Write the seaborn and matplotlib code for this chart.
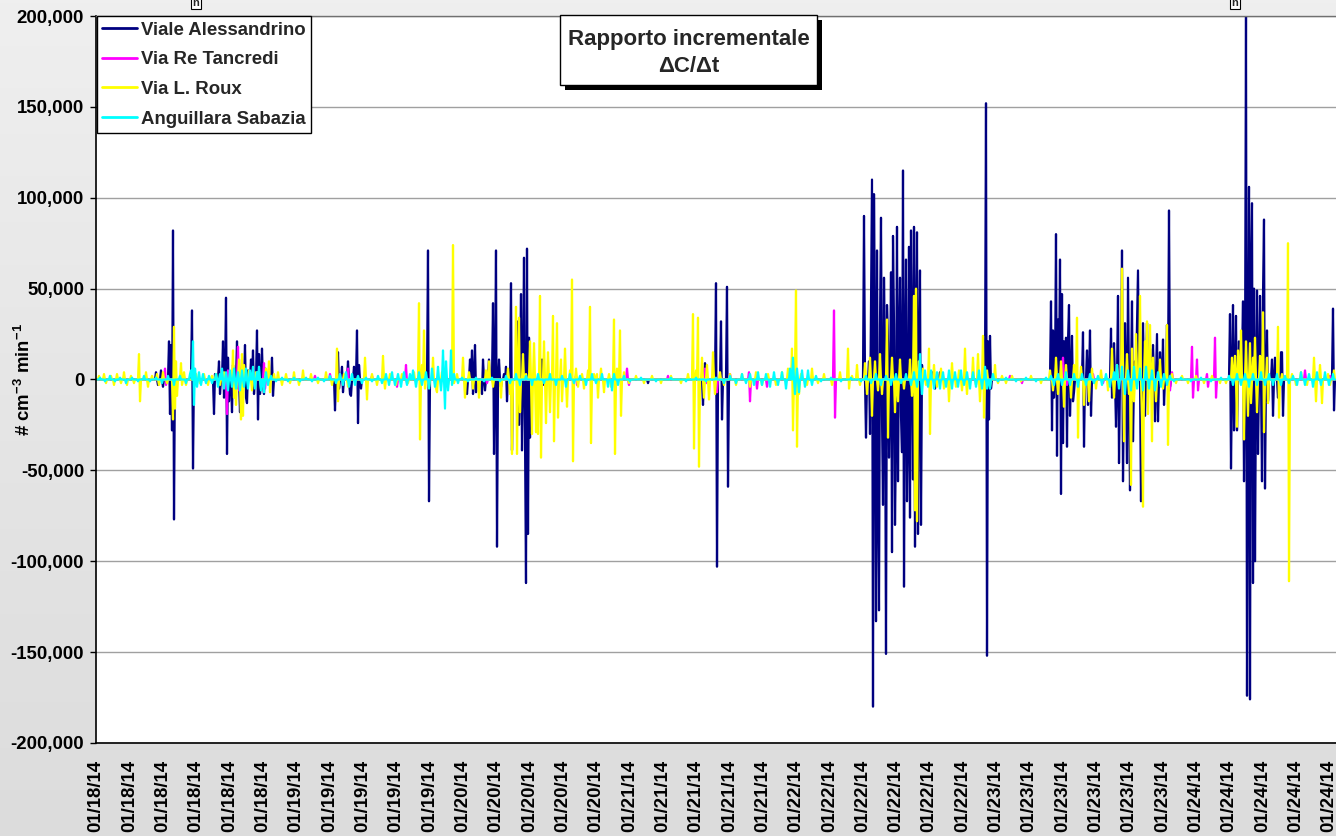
import numpy as np
import pandas as pd
import matplotlib
matplotlib.use("Agg")
import matplotlib.pyplot as plt
import seaborn as sns
from matplotlib.patches import Rectangle
from matplotlib.colors import LinearSegmentedColormap
from matplotlib.ticker import StrMethodFormatter

# samples along the time axis (one per reading), values in thousands of # cm-3 min-1
n_samples = 1240
stations = ["Viale Alessandrino", "Via Re Tancredi", "Via L. Roux", "Anguillara Sabazia"]
station_colors = ["#000080", "#FF00FF", "#FFFF00", "#00FFFF"]

# (sample, value) pairs; every other sample is ~0
viale = [(60, 4), (62, -3), (65, 5), (67, -4), (73, 21), (74, -19), (75, 19), (76, -28), (77, 82), (78, -77),
         (79, 10), (80, -5), (96, 38), (97, -49), (98, 5), (118, -19), (119, 3), (123, 10), (124, -8), (127, 21),
         (128, -10), (130, 45), (131, -41), (132, 12), (133, -12), (136, -18), (137, 8), (141, 21), (142, -5),
         (144, -18), (145, 6), (149, 19), (150, -10), (151, -13), (152, 5), (155, 11), (157, 16), (158, -8),
         (161, 27), (162, -22), (163, 14), (164, -8), (166, 17), (167, -3), (168, -8), (169, 6), (176, 12), (177, -9),
         (239, -17), (242, 15), (243, -5), (246, 7), (247, -7), (252, 10), (254, -8), (255, -9), (258, 7), (261, 27),
         (262, -24), (263, 8), (265, -5), (332, 71), (333, -67), (371, -8), (374, 11), (376, 16), (377, -8), (379, 19),
         (380, -7), (386, -8), (387, 11), (389, -6), (393, 11), (397, 42), (398, -41), (400, 71), (401, -92), (403, 11),
         (405, -4), (408, 3), (410, 7), (411, -12), (415, 53), (416, -39), (422, 32), (423, -25), (425, 47), (426, -39),
         (428, 67), (429, -30), (430, -112), (431, 72), (432, -85), (433, 23), (434, -32), (446, 11), (447, -3),
         (552, -2), (607, -14), (609, 9), (620, 53), (621, -103), (625, 32), (626, -22), (631, 51), (632, -59),
         (702, -4), (768, 90), (770, -32), (773, 10), (774, -30), (775, 40), (776, 110), (777, -180), (778, 102),
         (779, 20), (780, -133), (781, 71), (782, -60), (783, -127), (784, 30), (785, 89), (786, -20), (787, -69),
         (788, 56), (789, 10), (790, -151), (791, 41), (792, 20), (793, -43), (794, -10), (795, 59), (796, -95),
         (797, 79), (798, 30), (799, -80), (800, -30), (801, 84), (802, -56), (803, 20), (804, 56), (805, -20),
         (806, -40), (807, 115), (808, -114), (809, 10), (810, 66), (811, -67), (812, -30), (813, 73), (814, -76),
         (815, 82), (816, 20), (817, -55), (818, 84), (819, -92), (820, 30), (821, 81), (822, -85), (823, 15),
         (824, 60), (825, -80), (826, 8), (837, 4), (839, -5), (844, 4), (890, 152), (891, -152), (892, 21),
         (893, -22), (894, 24), (895, -5), (955, 43), (956, -28), (957, 27), (958, -10), (960, 80), (961, -42),
         (962, 33), (964, 66), (965, -63), (966, 47), (967, -35), (968, 21), (970, 23), (971, -37), (972, 21),
         (973, 41), (974, -20), (976, 24), (977, -12), (978, -7), (987, 26), (988, -37), (991, 16), (992, -14),
         (994, 27), (995, -20), (1015, 28), (1016, -10), (1018, 20), (1020, -26), (1022, 46), (1023, -46),
         (1026, 71), (1027, -56), (1029, 31), (1031, -46), (1032, 56), (1034, -61), (1036, 43), (1037, -34),
         (1039, 10), (1041, 31), (1042, 60), (1045, -67), (1047, 31), (1049, -20), (1051, 31), (1054, 17),
         (1057, 19), (1059, -23), (1061, 25), (1062, -23), (1064, 15), (1067, 22), (1068, -14), (1071, 30),
         (1073, 93), (1074, -4), (1134, 36), (1135, -49), (1137, 41), (1138, -28), (1140, 35), (1141, -28),
         (1143, 21), (1146, 10), (1147, 43), (1148, -56), (1150, 200), (1151, -174), (1153, 106), (1154, -176),
         (1155, 63), (1156, 97), (1157, -112), (1158, 50), (1159, -100), (1161, 49), (1162, -41), (1164, 46),
         (1166, -56), (1167, 46), (1168, 88), (1169, -60), (1171, 27), (1172, -12), (1176, 11), (1177, -20),
         (1179, 12), (1182, -10), (1185, 15), (1186, 15), (1187, -20), (1237, 39), (1238, -17)]

tancredi = [(69, 6), (70, -3), (131, -19), (132, 5), (142, 18), (143, -6), (146, 11), (147, -4), (157, 6),
            (159, -4), (168, 9), (169, -5), (219, 2), (234, 3), (244, 3), (252, 6), (253, -2), (276, 2), (301, -4),
            (310, 8), (311, -2), (391, -2), (480, 2), (481, -3), (531, 6), (533, -3), (572, 2), (609, 6), (610, -2),
            (621, -7), (634, 3), (653, 4), (654, -12), (661, -5), (671, -4), (738, 38), (739, -21), (914, 2),
            (926, -2), (967, 12), (971, -3), (997, 3), (1007, -2), (1074, -6), (1076, 4), (1096, 18), (1097, -10),
            (1101, 11), (1102, -6), (1111, 3), (1112, -4), (1119, 23), (1120, -10), (1209, 5), (1234, 2)]

roux = [(3, 2), (8, 3), (10, -2), (15, 2), (18, -3), (21, 3), (25, -2), (28, 4), (31, -3), (35, 2), (38, -2),
        (43, 14), (44, -12), (50, 4), (52, -4), (56, 2), (61, 3), (63, -3), (67, 4), (71, -2), (77, -22), (78, 29),
        (79, -16), (80, 10), (81, -9), (85, 9), (86, -3), (88, 4), (90, -3), (100, 3), (104, -2), (108, 3),
        (112, -3), (116, 2), (120, 3), (124, -3), (128, 4), (137, 16), (138, -10), (140, -14), (143, 11), (145, -22),
        (146, 14), (147, -20), (148, 8), (153, 5), (156, -6), (160, 4), (165, -5), (170, 6), (173, 10), (174, -7),
        (178, 3), (182, 4), (186, -3), (190, 3), (194, -2), (198, 4), (203, -3), (207, 5), (215, 3), (222, -2),
        (230, 4), (236, -3), (241, 17), (242, -12), (248, 3), (252, -4), (269, 12), (271, -11), (276, 3), (281, -3),
        (287, 13), (289, -5), (294, 3), (300, -3), (306, 3), (312, -2), (318, 4), (323, 42), (324, -33), (326, 8),
        (328, 27), (329, -5), (333, -4), (337, 12), (340, -5), (341, -7), (346, 4), (352, -3), (357, 74), (358, -2),
        (361, 3), (367, 12), (369, -10), (373, 4), (377, -5), (383, -10), (390, 5), (393, 10), (397, -4), (405, -10),
        (412, 6), (414, -8), (416, -41), (420, 40), (421, -41), (423, 34), (424, -18), (427, 14), (430, 3), (434, 21),
        (436, -30), (438, 20), (440, -29), (442, -30), (444, 46), (445, -43), (448, 21), (450, -24), (452, 15),
        (454, -18), (457, 35), (458, -34), (461, 31), (462, -21), (465, 11), (466, -12), (469, 17), (471, -15),
        (474, 5), (476, 55), (477, -45), (480, 6), (482, -4), (486, 3), (488, -5), (492, 5), (494, 40), (495, -35),
        (498, 3), (501, 3), (502, -10), (505, 6), (508, -7), (513, 3), (515, -4), (518, 33), (519, -41), (521, 6),
        (524, 27), (525, -20), (528, 4), (533, -2), (540, 2), (548, -2), (556, 2), (565, -2), (575, 2), (585, -2),
        (592, 3), (597, 36), (598, -38), (600, 5), (602, 34), (603, -48), (606, 12), (608, -10), (611, 8), (613, -11),
        (617, 15), (619, -8), (624, 4), (628, -3), (634, 3), (640, -3), (646, 3), (654, -4), (660, 4), (666, -3),
        (672, 3), (680, -3), (686, 4), (692, 6), (696, 17), (697, -28), (699, 5), (700, 49), (701, -37), (703, -8),
        (705, 3), (711, -3), (716, 6), (722, -2), (728, 3), (736, -3), (744, 4), (752, 17), (753, -5), (756, 2),
        (761, 8), (764, -3), (769, 9), (771, -8), (774, 12), (776, -20), (779, 10), (782, -6), (784, 14), (786, -8),
        (791, 33), (792, -32), (796, 12), (799, -18), (802, -12), (804, 11), (808, -5), (814, 11), (816, -9),
        (818, 46), (819, -72), (820, 50), (821, -78), (823, 10), (827, 6), (830, -3), (833, 17), (834, -30),
        (838, 8), (841, -4), (845, 6), (848, -5), (853, -12), (856, 9), (860, -4), (863, 5), (866, -6), (869, 17),
        (871, -8), (877, 12), (880, -3), (882, 14), (884, -12), (887, 24), (888, -21), (891, 5), (894, -4), (899, 8),
        (902, -2), (906, 2), (910, -2), (916, 2), (925, -1), (935, 2), (945, -2), (954, 5), (957, -6), (960, 12),
        (962, -8), (965, 10), (968, -15), (970, 8), (975, -10), (978, 8), (981, 34), (982, -32), (985, 7),
        (988, -14), (993, -12), (996, 6), (1000, -5), (1005, 5), (1012, -6), (1016, 17), (1018, -10), (1021, 8),
        (1026, 61), (1027, 10), (1028, -34), (1031, 14), (1033, -8), (1035, -58), (1036, 17), (1038, -12),
        (1040, 25), (1044, 46), (1046, -22), (1047, -70), (1049, 21), (1051, 32), (1052, -19), (1054, 30),
        (1056, -34), (1057, 12), (1060, -12), (1064, 11), (1067, -5), (1071, 30), (1072, -36), (1076, 3),
        (1080, -2), (1086, 2), (1092, -2), (1100, 2), (1108, -2), (1116, 2), (1124, -2), (1130, -2), (1136, 12),
        (1139, 13), (1141, -26), (1142, 16), (1145, 27), (1148, -33), (1150, 21), (1152, -20), (1154, 20),
        (1155, -13), (1157, 12), (1159, 23), (1161, -18), (1164, 13), (1167, 37), (1168, -29), (1171, 12),
        (1172, -13), (1182, 29), (1183, -21), (1186, 3), (1192, 75), (1193, -111), (1196, 3), (1200, -3),
        (1205, 4), (1211, -3), (1218, 12), (1220, -12), (1224, 8), (1226, -13), (1232, 3), (1234, -3), (1238, 5)]

anguillara = [(4, 1), (9, -1), (14, 2), (19, -1), (24, 1), (30, -2), (36, 1), (42, -1), (48, 2), (54, -1), (60, 1),
              (66, -2), (72, 2), (78, -3), (84, 2), (90, -2), (94, 3), (95, 5), (97, 21), (98, -14), (99, 6),
              (101, -4), (103, 4), (105, -3), (107, 3), (110, -2), (113, 2), (116, -2), (120, 3), (122, -4), (124, 3),
              (126, 6), (128, -5), (130, 4), (132, -6), (134, 5), (136, -4), (138, 6), (140, -5), (142, 4), (144, -6),
              (146, 5), (148, -4), (150, 6), (152, -5), (154, 5), (157, 7), (159, -5), (161, 4), (163, 7), (165, -6),
              (168, -7), (170, 4), (172, -3), (175, 2), (180, -1), (186, 1), (192, -1), (198, 1), (204, -1), (210, 1),
              (216, -1), (222, 1), (228, -1), (234, 2), (240, -2), (244, 3), (247, -3), (250, 4), (253, -4), (256, 3),
              (259, -3), (262, 2), (266, -2), (270, 1), (276, -1), (282, 2), (286, -2), (290, 3), (293, -3), (296, 4),
              (299, -3), (302, 3), (305, -4), (308, 4), (311, -3), (314, 3), (317, 5), (320, -4), (323, 4), (326, -3),
              (330, 4), (333, -5), (336, 6), (339, -4), (342, 7), (345, -6), (347, 16), (349, -16), (350, 10),
              (352, -6), (355, 16), (356, -3), (358, 3), (362, -2), (366, 1), (372, -1), (380, 1), (388, -1), (396, 1),
              (404, -1), (410, 2), (414, -2), (420, 3), (424, -3), (430, 2), (436, -3), (442, 3), (448, -2), (454, 3),
              (460, -3), (466, 2), (470, -4), (474, 3), (478, -2), (484, 2), (490, -3), (496, 3), (500, -2), (506, 3),
              (512, -4), (516, -6), (518, 3), (522, -3), (528, 2), (534, -1), (545, 1), (560, -1), (575, 1), (590, -1),
              (600, 1), (610, -1), (620, 1), (628, -2), (634, 2), (640, -2), (646, 3), (650, -2), (654, 3), (658, -3),
              (662, 4), (666, -3), (670, 3), (674, -4), (678, 4), (682, -3), (686, 4), (690, -5), (694, 6), (697, 12),
              (699, -8), (701, 6), (703, -7), (706, 5), (709, -4), (712, 5), (716, -3), (720, 2), (725, -1), (735, 1),
              (745, -1), (755, 1), (765, -1), (770, 2), (775, -2), (780, 3), (785, -3), (790, 2), (795, -3), (800, 3),
              (805, -2), (810, 3), (815, -3), (818, 4), (821, -4), (824, 14), (826, -8), (829, 5), (832, -4), (835, 5),
              (838, -5), (841, 4), (844, -5), (847, 4), (850, -4), (853, 5), (856, -5), (859, 4), (862, -4), (865, 5),
              (868, -3), (871, 4), (874, -5), (877, 4), (880, -4), (883, 5), (886, -5), (889, 7), (891, -5), (894, -5),
              (897, 3), (902, -1), (910, 1), (920, -1), (930, 1), (940, -1), (950, 1), (955, 2), (958, -3), (962, 3),
              (966, -3), (970, 4), (974, -3), (978, 3), (982, -4), (986, 3), (990, -3), (994, 3), (998, -2), (1002, 2),
              (1006, -3), (1010, 3), (1014, -4), (1018, 4), (1021, 8), (1023, -5), (1026, 7), (1029, -8), (1032, 5),
              (1035, -6), (1038, 7), (1041, -5), (1044, 6), (1047, -6), (1050, 7), (1053, -5), (1056, 5), (1059, -6),
              (1062, 4), (1065, -4), (1068, 3), (1071, -3), (1074, 2), (1078, -1), (1085, 1), (1095, -1), (1105, 1),
              (1115, -1), (1125, 1), (1133, 2), (1137, -3), (1141, 3), (1145, -3), (1149, 3), (1153, -4), (1157, 3),
              (1161, -3), (1165, 4), (1169, -3), (1173, 3), (1177, -3), (1181, 3), (1185, -3), (1189, 2), (1193, -2),
              (1197, 2), (1201, -3), (1205, 4), (1209, -3), (1213, 3), (1217, -4), (1221, 4), (1225, -3), (1229, 4),
              (1233, -3), (1237, 3)]

tick_dates = (["01/18/14"] * 6 + ["01/19/14"] * 5 + ["01/20/14"] * 5 + ["01/21/14"] * 5
              + ["01/22/14"] * 6 + ["01/23/14"] * 6 + ["01/24/14"] * 5)
tick_step = 33.33  # samples between category labels

# build long-form table
frames = []
for name, pairs in zip(stations, [viale, tancredi, roux, anguillara]):
    vals = np.zeros(n_samples)
    for i, v in pairs:
        vals[i] = v * 1000
    frames.append(pd.DataFrame({"sample": np.arange(n_samples), "value": vals, "station": name}))
df = pd.concat(frames, ignore_index=True)

sns.set_theme(style="white")
plt.rcParams["font.family"] = ["Liberation Sans", "DejaVu Sans"]
plt.rcParams["axes.unicode_minus"] = False
plt.rcParams["mathtext.fontset"] = "custom"
plt.rcParams["mathtext.rm"] = "Liberation Sans:bold"
plt.rcParams["mathtext.bf"] = "Liberation Sans:bold"
plt.rcParams["mathtext.default"] = "bf"

W, H = 1336, 836
fig = plt.figure(figsize=(W / 100, H / 100), dpi=100)

# grey chart area, slightly lighter at the top
bg = fig.add_axes([0, 0, 1, 1], zorder=-10)
grad = np.linspace(0, 1, 256).reshape(-1, 1)
bg.imshow(grad, aspect="auto", cmap=LinearSegmentedColormap.from_list("g", ["#efefef", "#dcdcdc"]),
          extent=[0, 1, 0, 1])
bg.axis("off")

ax = fig.add_axes([96 / W, 1 - 743 / H, 1240 / W, 727 / H])
ax.set_zorder(1)
ax.set_facecolor("white")

sns.lineplot(data=df, x="sample", y="value", hue="station", hue_order=stations,
             palette=dict(zip(stations, station_colors)), estimator=None, sort=False,
             linewidth=1.6, ax=ax)

ax.set_xlim(0, n_samples)
ax.set_ylim(-200000, 200000)
ax.set_yticks(np.arange(-200000, 200001, 50000))
ax.yaxis.set_major_formatter(StrMethodFormatter("{x:,.0f}"))
ax.set_xticks([k * tick_step for k in range(len(tick_dates))])
ax.set_xticklabels(tick_dates, rotation=90)
for lab in ax.get_xticklabels() + ax.get_yticklabels():
    lab.set_fontweight("bold")
    lab.set_fontsize(13.4)
    lab.set_color("black")
ax.tick_params(axis="x", length=0, pad=12)
ax.tick_params(axis="y", length=4.5, width=1, direction="out", color="black", pad=4, left=True)

ax.yaxis.grid(True, color="#a0a0a0", linewidth=1)
ax.xaxis.grid(False)
ax.set_axisbelow(True)

ax.set_xlabel("")
ax.set_ylabel("# cm$^{-3}$ min$^{-1}$", fontsize=13.4, fontweight="bold", color="black")
ax.yaxis.set_label_coords(-0.050, 0.5)

for side in ["left", "bottom"]:
    ax.spines[side].set_color("black")
    ax.spines[side].set_linewidth(1.2)
ax.spines["top"].set_color("#707070")
ax.spines["top"].set_linewidth(1.0)
ax.spines["right"].set_visible(False)

handles, labels = ax.get_legend_handles_labels()
leg = ax.legend(handles, labels, loc="upper left", bbox_to_anchor=(0.0005, 1.0),
                prop={"weight": "bold", "size": 13.4}, frameon=True, fancybox=False,
                edgecolor="black", framealpha=1, handlelength=1.85, handletextpad=0.25,
                labelspacing=0.68, borderpad=0.3, borderaxespad=0)
leg.get_frame().set_linewidth(1.0)
for ln in leg.get_lines():
    ln.set_linewidth(2)

# title box with drop shadow
def fig_rect(x, y, w, h, **kw):
    return Rectangle((x / W, 1 - (y + h) / H), w / W, h / H, transform=fig.transFigure, **kw)

fig.add_artist(fig_rect(565, 20, 257, 70, facecolor="black", edgecolor="none", zorder=5))
fig.add_artist(fig_rect(560, 15, 257, 70, facecolor="white", edgecolor="black", linewidth=1, zorder=6))
fig.text(688.5 / W, 1 - 40 / H, "Rapporto incrementale", ha="center", va="center",
         fontsize=16, fontweight="bold", zorder=7)
fig.text(688.5 / W, 1 - 67 / H, "\u0394C/\u0394t", ha="center", va="center",
         fontsize=16, fontweight="bold", zorder=7)

# small marker boxes at the top edge
for xm in [196, 1235]:
    fig.text(xm / W, 1 + 2 / H, "n", ha="center", va="top", fontsize=8, fontweight="bold", zorder=7,
             bbox=dict(boxstyle="square,pad=0.1", facecolor="white", edgecolor="black", linewidth=0.8))

fig.savefig("out.png", dpi=100)
